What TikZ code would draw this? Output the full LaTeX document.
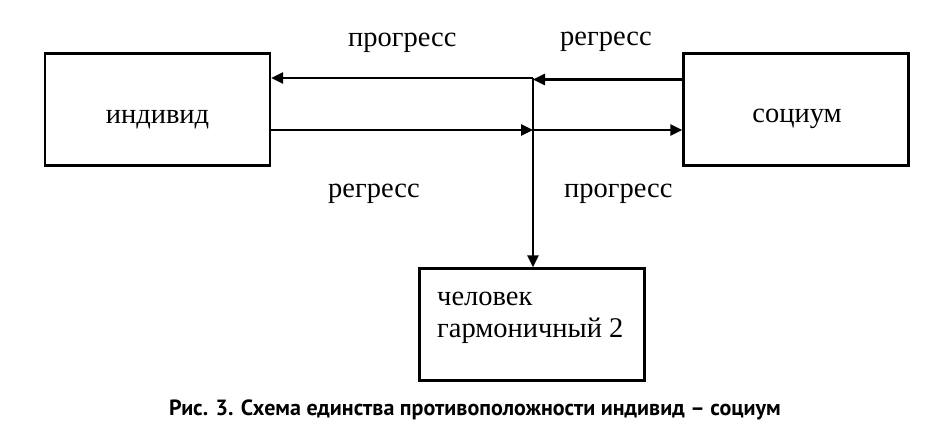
\documentclass[tikz,border=0pt]{standalone}
\usepackage{fontspec}
\setmainfont{Liberation Serif}
\newfontfamily\capfont{PT Sans}
\usetikzlibrary{arrows.meta}
\begin{document}
\begin{tikzpicture}[x=1pt,y=-1pt,
  box/.style={draw,line width=2.3pt,inner sep=0pt,minimum width=225pt,minimum height=112pt},
  arr/.style={line width=2.6pt,-{Triangle[length=12pt,width=11pt]}},
  lbl/.style={inner sep=0pt,anchor=base west,font=\fontsize{28.5}{32}\selectfont},
  ]
\useasboundingbox (0,0) rectangle (950,426);
\node[box] (ind) at (157.5,109.5) {};
\node[box] (soc) at (796,109.5) {};
\node[box] (hum) at (532,324.5) {};
\node[lbl,anchor=base] (indtxt) at (157.5,123) {индивид};
\node[lbl,anchor=base] (soctxt) at (797,122) {социум};
\node[lbl,align=left,font=\fontsize{28.5}{32}\selectfont] (humtxt) at (437,337) {человек\\гармоничный 2};
\coordinate (J) at (533,78);
\coordinate (K) at (533,130);
\draw[arr] (J) -- (ind.east |- J);
\draw[arr] (soc.west |- 0,79.5) -- (J |- 0,79.5);
\draw[arr] (ind.east |- K) -- (K);
\draw[arr] (K) -- (soc.west |- K);
\draw[arr] (J) -- (J |- hum.north);
\node[lbl] (l1) at (348,46.5) {прогресс};
\node[lbl] (l2) at (560,45.5) {регресс};
\node[lbl] (l3) at (328,197) {регресс};
\node[lbl] (l4) at (564,197) {прогресс};
\node[inner sep=0pt,font=\capfont\bfseries\fontsize{22}{26}\selectfont] (cap) at (475,410) {Рис. 3. Схема единства противоположности индивид – социум};
\end{tikzpicture}
\end{document}
